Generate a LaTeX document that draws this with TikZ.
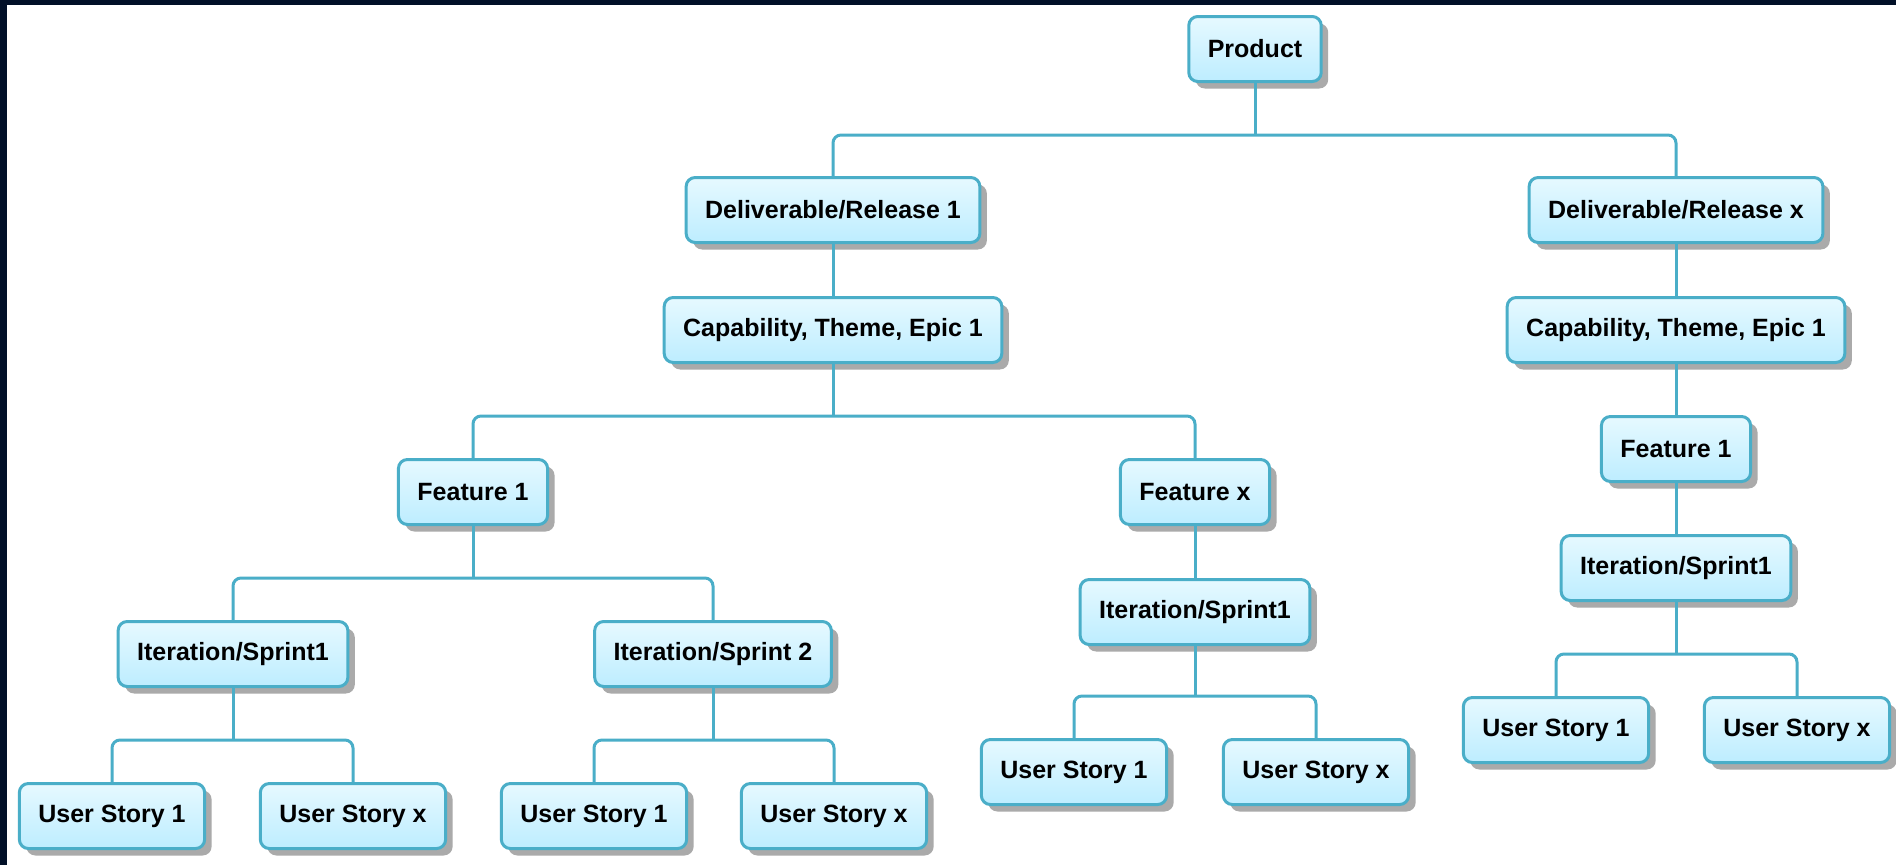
\documentclass[tikz,border=0pt]{standalone}
\usepackage{fontspec}
\setmainfont{Liberation Sans}
\usetikzlibrary{shadows}
\definecolor{frame}{HTML}{011028}
\definecolor{lineblue}{HTML}{4AAEC8}
\definecolor{boxtop}{HTML}{E6F9FF}
\definecolor{boxbot}{HTML}{BDEDFF}
\definecolor{shadowgray}{HTML}{AAAAAA}
\tikzset{
  box/.style={draw=lineblue, line width=3pt, rounded corners=9pt,
    top color=boxtop, bottom color=boxbot, minimum height=65pt,
    inner xsep=19pt, inner ysep=0pt, text=black,
    font=\bfseries\fontsize{25}{30}\selectfont,
    drop shadow={shadow xshift=7pt, shadow yshift=-7pt, fill=shadowgray, opacity=1}},
  conn/.style={draw=lineblue, line width=3pt},
  bus/.style={conn, rounded corners=8pt}
}
\begin{document}
\begin{tikzpicture}[x=1pt,y=-1pt]
\useasboundingbox (0,0) rectangle (1896,865);
\fill[white] (0,0) rectangle (1896,865);
\fill[frame] (0,0) rectangle (1896,5);
\fill[frame] (0,0) rectangle (7,865);

% nodes
\node[box] (P) at (1255,49) {Product};
\node[box] (D1) at (833,210) {Deliverable/Release 1};
\node[box] (DX) at (1676,210) {Deliverable/Release x};
\node[box] (C1) at (833,330) {Capability, Theme, Epic 1};
\node[box] (CX) at (1676,330) {Capability, Theme, Epic 1};
\node[box] (F1) at (473,492) {Feature 1};
\node[box] (FX) at (1195,492) {Feature x};
\node[box] (FR) at (1676,449) {Feature 1};
\node[box] (I1) at (233,654) {Iteration/Sprint1};
\node[box] (I2) at (713,654) {Iteration/Sprint 2};
\node[box] (IX) at (1195,612) {Iteration/Sprint1};
\node[box] (IR) at (1676,568) {Iteration/Sprint1};
\node[box] (U1) at (112,816) {User Story 1};
\node[box] (U2) at (353,816) {User Story x};
\node[box] (U3) at (594,816) {User Story 1};
\node[box] (U4) at (834,816) {User Story x};
\node[box] (U5) at (1074,772) {User Story 1};
\node[box] (U6) at (1316,772) {User Story x};
\node[box] (U7) at (1556,730) {User Story 1};
\node[box] (U8) at (1797,730) {User Story x};

% bus levels
\coordinate (b0) at (0,135);
\coordinate (b1) at (0,416);
\coordinate (b2) at (0,578);
\coordinate (b3) at (0,740);
\coordinate (b4) at (0,740);
\coordinate (b5) at (0,696);
\coordinate (b6) at (0,654);

% connectors
\draw[conn] (P.south) -- (P.south |- b0);
\draw[bus] (D1.north) |- (DX.north |- b0) -- (DX.north);
\draw[conn] (D1.south) -- (C1.north);
\draw[conn] (DX.south) -- (CX.north);
\draw[conn] (CX.south) -- (FR.north);
\draw[conn] (FR.south) -- (IR.north);
\draw[conn] (C1.south) -- (C1.south |- b1);
\draw[bus] (F1.north) |- (FX.north |- b1) -- (FX.north);
\draw[conn] (F1.south) -- (F1.south |- b2);
\draw[bus] (I1.north) |- (I2.north |- b2) -- (I2.north);
\draw[conn] (FX.south) -- (IX.north);
\draw[conn] (I1.south) -- (I1.south |- b3);
\draw[bus] (U1.north) |- (U2.north |- b3) -- (U2.north);
\draw[conn] (I2.south) -- (I2.south |- b4);
\draw[bus] (U3.north) |- (U4.north |- b4) -- (U4.north);
\draw[conn] (IX.south) -- (IX.south |- b5);
\draw[bus] (U5.north) |- (U6.north |- b5) -- (U6.north);
\draw[conn] (IR.south) -- (IR.south |- b6);
\draw[bus] (U7.north) |- (U8.north |- b6) -- (U8.north);
\end{tikzpicture}
\end{document}
